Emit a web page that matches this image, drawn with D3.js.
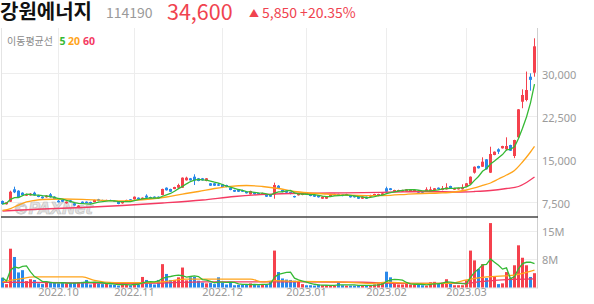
<!DOCTYPE html>
<html>
<head>
<meta charset="utf-8">
<script src="https://cdnjs.cloudflare.com/ajax/libs/d3/7.8.5/d3.min.js"></script>
<style>
  body { margin: 0; background: #fff; }
  svg { display: block; font-family: "Noto Sans CJK KR", "Noto Sans", sans-serif; }
</style>
</head>
<body>
<svg></svg>
<script>
// daily candles, 2022-09-13 .. 2023-03-27
const open = [7620,7050,7500,9660,9420,9070,8550,8610,9070,8610,8380,8270,8790,8380,7670,7800,7220,7740,7220,6520,
  7500,7500,7450,7450,7920,7800,7670,7800,7670,7450,7220,7500,7920,7920,8200,7920,8550,8320,8380,8370,
  8670,9940,9720,9720,9940,9940,11230,11580,11860,11580,11580,11110,10710,10710,10530,10530,10410,9940,9540,9540,
  9540,9240,8790,9140,9020,8790,8790,8790,8790,10290,9540,9420,9190,8490,8620,8670,9070,8840,8720,8620,
  8020,8020,8370,8620,8840,8790,8670,8620,8620,8370,8020,8370,8370,8620,8490,8670,9840,9840,9240,9310,
  9240,9310,9310,9240,9310,9310,9310,9310,9540,9940,9540,9660,10240,9590,9660,9660,10120,10590,12560,13730,
  13600,14890,12560,15650,16640,16810,16640,17390,15470,18730,24940,25240,29300,30000]
const high = [7720,7450,9420,10120,9500,9150,8900,9000,9250,8700,8450,8650,9020,8450,7800,7850,7550,7800,7300,6900,
  7550,7550,7500,7850,8000,7850,7850,7850,7720,7500,7620,7850,7970,8420,8250,8250,8790,8380,8430,8420,
  9770,10000,9770,10110,10640,11740,11860,11640,12280,11640,11640,11630,10760,10760,10760,10580,10460,9990,9590,9590,
  9590,9290,9420,9190,9070,9070,8840,8840,10820,10400,9600,9470,9240,8540,9010,9120,9120,8890,8770,8670,
  8420,8420,8720,8890,8890,8840,8890,8670,8670,8420,8420,8420,8720,8890,8890,9020,10120,9890,9590,9590,
  9590,9710,9710,9590,9360,9360,10010,10120,9890,9990,10240,10710,10290,9940,9940,10530,10760,11910,13650,13780,
  15240,14940,17090,16270,16810,17260,18730,17440,18310,23660,27100,30200,29890,36000]
const low = [6980,7000,7450,9000,8200,8600,8500,8560,8560,8270,8020,8200,8200,7900,7350,7450,7150,7350,6800,6450,
  7200,7200,7150,7400,7570,7500,7620,7620,7450,7050,7150,7450,7620,7850,7850,7870,8150,8040,8100,8040,
  8620,9440,9190,9670,9890,9890,11180,11180,10410,11060,11180,11060,10240,10240,10240,10010,10010,9490,9190,9190,
  9190,8920,8740,8740,8740,8740,8320,8320,8020,9700,9140,9020,8790,8220,8570,8620,8790,8440,8320,8220,
  7970,7970,8320,8570,8570,8440,8620,8220,8220,7970,7970,7970,8320,8570,8440,8620,8970,9490,9190,9260,
  9190,9260,9260,9190,9020,9020,9260,9260,9490,9610,9490,9610,9790,9540,9610,9610,10070,10540,12400,13280,
  13550,13100,12500,15600,15820,16760,16390,16340,15100,18680,23800,25000,26860,29300]
const close = [7100,7400,9240,9140,8270,8670,8790,8900,8610,8320,8090,8550,8270,7970,7400,7500,7500,7400,6840,6800,
  7270,7270,7220,7800,7620,7570,7800,7670,7500,7100,7570,7800,7670,8370,7920,8200,8200,8090,8150,8090,
  9720,9490,9240,10060,10410,11690,11690,11230,11230,11110,11230,11580,10290,10290,10290,10060,10060,9540,9240,9240,
  9240,8970,9370,8790,8790,9020,8370,8370,10410,9840,9190,9070,8840,8270,8960,9070,8840,8490,8370,8270,
  8370,8370,8670,8840,8620,8490,8840,8270,8270,8020,8370,8020,8670,8840,8840,8970,9240,9540,9540,9540,
  9540,9660,9660,9540,9070,9070,9660,9660,9840,9660,9840,10010,9840,9890,9890,10010,10710,11860,13600,13330,
  14480,13150,15820,16220,16220,17210,17210,16390,18260,23610,26110,26980,28750,34600]
// volume, millions of shares
const volume = [2.6,0.9,10.3,8.1,4.0,4.6,1.7,2.2,2.0,1.1,0.9,1.5,1.4,1.2,1.1,1.2,1.1,1.2,1.3,1.3,
  1.5,2.0,0.8,1.5,1.1,0.9,1.0,0.8,0.7,0.5,1.0,0.7,0.6,1.2,0.8,2.8,2.0,1.1,0.8,2.0,
  6.2,3.6,2.0,2.0,2.7,5.3,1.9,2.7,2.8,1.8,1.3,1.1,1.2,0.9,2.7,1.3,0.8,1.3,0.6,0.7,
  0.7,0.8,1.1,0.7,0.6,0.9,0.8,1.7,9.8,4.1,2.4,2.1,2.0,1.8,1.7,0.9,0.6,0.6,0.5,0.8,
  0.6,0.5,0.5,0.5,1.3,0.6,0.5,0.5,0.5,0.6,0.6,0.6,0.5,0.8,1.1,1.4,4.2,2.7,1.3,0.8,
  0.8,1.1,0.8,0.8,0.8,0.6,0.5,1.4,1.5,1.0,1.3,2.2,1.2,0.6,0.6,0.6,1.9,9.8,7.2,4.9,
  6.2,2.5,17.1,2.8,0.9,1.1,4.1,2.6,5.9,11.2,7.9,5.9,2.8,3.8]

// moving averages (candle index -> value)
const ma20Idx = [0,2,4,6,8,10,15,20,25,30,33,37,41,45,49,53,57,61,65,69,73,77,81,85,89,93,97,101,105,109,113,116,118,120,122,124,126,128,130,132,133]
const ma20 = [5970,6310,6920,7450,7710,7880,7970,7920,7740,7660,7740,7970,8320,8840,9280,9800,10190,10330,10150,9800,9280,9020,8840,8670,8580,8550,8620,8790,8930,9020,9190,9540,9890,10330,10760,11460,12160,12940,14420,16170,17130]
const ma60Idx = [0,10,20,30,40,50,58,66,74,82,90,98,106,114,118,122,126,129,131,133]
const ma60 = [5880,6230,6490,6840,7270,7800,8410,8790,8970,9020,9070,9190,9280,9190,9280,9450,9800,10150,10850,11810]
const volMa20Idx = [0,4,8,20,23,28,36,40,46,62,65,68,74,84,92,96,104,112,116,121,128,133]
const volMa20 = [1.5,2.2,2.8,2.8,1.9,1.3,1.3,1.5,2.2,2.2,1.5,1.8,1.6,1.5,1.1,1.4,1.1,1.1,2.0,2.8,3.3,4.6]
const volMa60Idx = [0,15,30,40,50,75,90,100,115,120,126,133]
const volMa60 = [1.4,1.3,1.1,1.2,1.5,1.5,1.4,1.1,1.1,1.6,2.1,2.3]

const monthIdx = [14, 33, 55, 76, 96, 116]
const monthLabels = ['2022.10', '2022.11', '2022.12', '2023.01', '2023.02', '2023.03']
const priceTicks = [7500, 15000, 22500, 30000]
const volTicks = [7.5, 15]

const width = 594
const height = 304
const plotRight = 537
const priceTop = 28
const priceBottom = 216.5
const volBottom = 287.5

const upColor = '#f5414d'
const downColor = '#2a88ea'
const ma5Color = '#35b934'
const ma20Color = '#ffa41a'
const ma60Color = '#f43a62'
const gridColor = '#ededed'

let svg, x, priceY, volY

const drawCanvas = () => {
    svg = d3.select('svg')
        .attr('width', width)
        .attr('height', height)
    svg.append('defs').append('clipPath')
        .attr('id', 'price-clip')
        .append('rect')
        .attr('x', 0).attr('y', priceTop)
        .attr('width', plotRight).attr('height', priceBottom - priceTop)
}

const generateScales = () => {
    x = d3.scaleBand()
        .domain(d3.range(close.length))
        .range([0.5, plotRight - 0.5])
        .paddingInner(0.25)
        .paddingOuter(0.125)
    priceY = d3.scaleLinear()
        .domain([7500, 30000])
        .range([201.7, 72.7])
    volY = d3.scaleLinear()
        .domain([0, 15])
        .range([volBottom, 231])
}

const cx = i => x(i) + x.bandwidth() / 2

const drawTitle = () => {
    const t = svg.append('g')
    t.append('text').attr('x', 0).attr('y', 19)
        .style('font-size', '20px').style('font-weight', 700).attr('fill', '#111')
        .text('강원에너지')
    t.append('text').attr('x', 106).attr('y', 18)
        .style('font-size', '14px').attr('fill', '#9a9a9a')
        .text('114190')
    t.append('text').attr('x', 167).attr('y', 19.5)
        .style('font-size', '21.5px').attr('fill', '#f0434f')
        .text('34,600')
    t.append('text').attr('x', 249).attr('y', 17)
        .style('font-size', '10px').attr('fill', '#f0434f')
        .text('▲')
    t.append('text').attr('x', 262).attr('y', 18)
        .style('font-size', '14px').attr('fill', '#f0434f')
        .text('5,850 +20.35%')
}

const drawGrid = () => {
    const g = svg.append('g')
    g.selectAll('.hgrid')
        .data(priceTicks)
        .enter().append('line')
        .attr('x1', 1).attr('x2', plotRight)
        .attr('y1', d => Math.round(priceY(d)) + 0.5)
        .attr('y2', d => Math.round(priceY(d)) + 0.5)
        .attr('stroke', gridColor)
    g.selectAll('.vgrid-h')
        .data(volTicks)
        .enter().append('line')
        .attr('x1', 1).attr('x2', plotRight)
        .attr('y1', d => Math.round(volY(d)) + 0.5)
        .attr('y2', d => Math.round(volY(d)) + 0.5)
        .attr('stroke', gridColor)
    g.selectAll('.vgrid')
        .data(monthIdx)
        .enter().append('line')
        .attr('x1', d => cx(d)).attr('x2', d => cx(d))
        .attr('y1', priceTop).attr('y2', volBottom)
        .attr('stroke', gridColor)
    g.append('line')
        .attr('x1', 1.5).attr('x2', 1.5)
        .attr('y1', priceTop).attr('y2', volBottom)
        .attr('stroke', '#e4e4e4')
    g.append('line')
        .attr('x1', 1).attr('x2', plotRight)
        .attr('y1', volBottom + 0.5).attr('y2', volBottom + 0.5)
        .attr('stroke', '#e4e4e4')
}

const drawWatermark = () => {
    svg.append('text')
        .attr('x', 13).attr('y', 214)
        .style('font-family', '"DejaVu Sans", sans-serif')
        .style('font-size', '16px').style('font-weight', 700).style('font-style', 'italic')
        .style('letter-spacing', '-0.5px')
        .attr('fill', '#dcdcdc').attr('stroke', '#b5b5b5').attr('stroke-width', 0.6)
        .attr('opacity', 0.85)
        .text('©PAXNet')
}

const drawCandles = () => {
    const g = svg.append('g').attr('clip-path', 'url(#price-clip)')
    const idx = d3.range(close.length)
    const col = i => close[i] >= open[i] ? upColor : downColor
    g.selectAll('.wick')
        .data(idx)
        .enter().append('line')
        .attr('class', 'wick')
        .attr('x1', cx).attr('x2', cx)
        .attr('y1', i => priceY(high[i]))
        .attr('y2', i => priceY(low[i]))
        .attr('stroke', col)
    g.selectAll('.body')
        .data(idx)
        .enter().append('rect')
        .attr('class', 'body')
        .attr('x', i => x(i))
        .attr('width', x.bandwidth())
        .attr('y', i => priceY(Math.max(open[i], close[i])))
        .attr('height', i => Math.max(1, Math.abs(priceY(open[i]) - priceY(close[i]))))
        .attr('fill', col)
}

const movingAvg = (arr, n) => arr.map((d, i) => d3.mean(arr.slice(Math.max(0, i - n + 1), i + 1)))

const drawPriceLines = () => {
    const g = svg.append('g').attr('clip-path', 'url(#price-clip)')
    const ma5 = movingAvg(close, 5)
    const line = d3.line().x(d => cx(d[0])).y(d => priceY(d[1]))
    const smooth = d3.line().x(d => cx(d[0])).y(d => priceY(d[1])).curve(d3.curveMonotoneX)
    g.append('path')
        .datum(ma60Idx.map((d, i) => [d, ma60[i]]))
        .attr('d', smooth).attr('fill', 'none').attr('stroke', ma60Color).attr('stroke-width', 1.3)
    g.append('path')
        .datum(ma20Idx.map((d, i) => [d, ma20[i]]))
        .attr('d', smooth).attr('fill', 'none').attr('stroke', ma20Color).attr('stroke-width', 1.3)
    g.append('path')
        .datum(ma5.map((d, i) => [i, d]))
        .attr('d', line).attr('fill', 'none').attr('stroke', ma5Color).attr('stroke-width', 1.3)
}

const drawVolume = () => {
    const g = svg.append('g')
    g.selectAll('.vol')
        .data(d3.range(volume.length))
        .enter().append('rect')
        .attr('class', 'vol')
        .attr('x', i => x(i))
        .attr('width', x.bandwidth())
        .attr('y', i => volY(volume[i]))
        .attr('height', i => volBottom - volY(volume[i]))
        .attr('fill', i => close[i] >= open[i] ? upColor : downColor)
    const line = d3.line().x(d => cx(d[0])).y(d => volY(d[1]))
    const smooth = d3.line().x(d => cx(d[0])).y(d => volY(d[1])).curve(d3.curveMonotoneX)
    g.append('path')
        .datum(volMa60Idx.map((d, i) => [d, volMa60[i]]))
        .attr('d', smooth).attr('fill', 'none').attr('stroke', ma60Color).attr('stroke-width', 1.3)
    g.append('path')
        .datum(volMa20Idx.map((d, i) => [d, volMa20[i]]))
        .attr('d', smooth).attr('fill', 'none').attr('stroke', ma20Color).attr('stroke-width', 1.3)
    g.append('path')
        .datum(movingAvg(volume, 5).map((d, i) => [i, d]))
        .attr('d', line).attr('fill', 'none').attr('stroke', ma5Color).attr('stroke-width', 1.3)
}

const generateAxes = () => {
    const priceAxis = d3.axisRight(priceY)
        .tickValues(priceTicks)
        .tickFormat(d3.format(','))
        .tickSize(0).tickPadding(5)
    const volAxis = d3.axisRight(volY)
        .tickValues(volTicks)
        .tickFormat(d => d3.format('.0f')(d) + 'M')
        .tickSize(0).tickPadding(5)
    const xAxis = d3.axisBottom(x)
        .tickValues(monthIdx)
        .tickFormat((d, i) => monthLabels[i])
        .tickSize(0).tickPadding(1)

    const pa = svg.append('g')
        .attr('transform', `translate(${plotRight}, 0)`)
        .call(priceAxis)
    pa.selectAll('text').attr('y', 2.5)
    const va = svg.append('g')
        .attr('transform', `translate(${plotRight}, 0)`)
        .call(volAxis)
    va.selectAll('text').attr('y', 1)
    const xa = svg.append('g')
        .attr('transform', `translate(0, ${volBottom})`)
        .call(xAxis)

    ;[pa, va, xa].forEach(a => {
        a.select('.domain').remove()
        a.selectAll('text')
            .attr('fill', '#9b9b9b')
            .style('font-family', '"Noto Sans", sans-serif')
            .style('font-size', '11px')
    })

    svg.append('line')
        .attr('x1', plotRight + 0.5).attr('x2', plotRight + 0.5)
        .attr('y1', priceTop).attr('y2', volBottom + 1)
        .attr('stroke', '#cfcfcf')
    svg.append('line')
        .attr('x1', 1).attr('x2', plotRight + 1)
        .attr('y1', priceBottom + 0.5).attr('y2', priceBottom + 0.5)
        .attr('stroke', '#444').attr('stroke-width', 1.3)
}

const drawLegend = () => {
    const g = svg.append('g')
    g.append('text').attr('x', 7).attr('y', 44.5)
        .style('font-size', '10px').attr('fill', '#8a8a8a')
        .text('이동평균선')
    const items = [['5', ma5Color, 59.5], ['20', ma20Color, 68], ['60', ma60Color, 83]]
    g.selectAll('.leg')
        .data(items)
        .enter().append('text')
        .attr('x', d => d[2]).attr('y', 44.5)
        .style('font-family', '"Noto Sans", sans-serif')
        .style('font-size', '10.5px').style('font-weight', 700)
        .attr('fill', d => d[1])
        .text(d => d[0])
}

drawCanvas()
generateScales()
drawTitle()
drawGrid()
drawWatermark()
drawCandles()
drawPriceLines()
drawVolume()
generateAxes()
drawLegend()
</script>
</body>
</html>
